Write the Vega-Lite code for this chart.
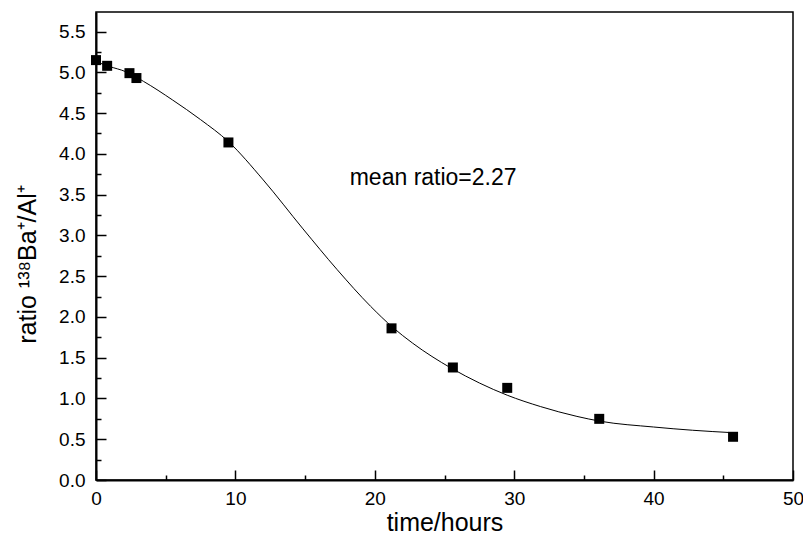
{
  "$schema": "https://vega.github.io/schema/vega-lite/v6.json",
  "width": 697,
  "height": 468,
  "autosize": "none",
  "padding": {"left": 96, "top": 12, "right": 10, "bottom": 60},
  "background": "white",
  "config": {
    "font": "Liberation Sans",
    "view": {"stroke": "#000", "strokeWidth": 1.5},
    "axis": {"grid": false, "labelFont": "Liberation Sans", "titleFont": "Liberation Sans", "labelColor": "#000", "titleColor": "#000", "tickColor": "#000", "domainColor": "#000", "labelFontSize": 19, "titleFontSize": 25, "titleFontWeight": "normal", "labelFlush": false, "labelOverlap": false}
  },
  "datasets": {
    "points": [
      {"time": 0, "ratio": 5.15},
      {"time": 0.8, "ratio": 5.08},
      {"time": 2.4, "ratio": 4.99},
      {"time": 2.9, "ratio": 4.93},
      {"time": 9.5, "ratio": 4.14},
      {"time": 21.2, "ratio": 1.86},
      {"time": 25.6, "ratio": 1.38},
      {"time": 29.5, "ratio": 1.13},
      {"time": 36.1, "ratio": 0.75},
      {"time": 45.7, "ratio": 0.53}
    ],
    "fit": [
      {"time": 0, "ratio": 5.13},
      {"time": 1.0, "ratio": 5.07},
      {"time": 2.1, "ratio": 5.01},
      {"time": 3.4, "ratio": 4.89},
      {"time": 5.5, "ratio": 4.66},
      {"time": 7.5, "ratio": 4.42},
      {"time": 9.5, "ratio": 4.15},
      {"time": 12.0, "ratio": 3.68},
      {"time": 14.85, "ratio": 3.08},
      {"time": 17.3, "ratio": 2.58},
      {"time": 19.7, "ratio": 2.13},
      {"time": 21.3, "ratio": 1.87},
      {"time": 22.7, "ratio": 1.68},
      {"time": 25.5, "ratio": 1.37},
      {"time": 27.5, "ratio": 1.19},
      {"time": 29.5, "ratio": 1.04},
      {"time": 31.9, "ratio": 0.9},
      {"time": 34.5, "ratio": 0.78},
      {"time": 36.2, "ratio": 0.72},
      {"time": 40, "ratio": 0.65},
      {"time": 42.8, "ratio": 0.61},
      {"time": 45.7, "ratio": 0.58}
    ],
    "note": [{"time": 18.2, "ratio": 3.7, "label": "mean ratio=2.27"}]
  },
  "resolve": {"axis": {"x": "independent", "y": "independent"}},
  "layer": [
    {
      "data": {"name": "fit"},
      "mark": {"type": "line", "interpolate": "monotone", "color": "#000", "strokeWidth": 1},
      "encoding": {
        "x": {"field": "time", "type": "quantitative", "scale": {"domain": [0, 50], "nice": false},
          "axis": {"orient": "bottom", "values": [5, 15, 25, 35, 45], "labels": false, "domain": false, "tickSize": -5, "tickWidth": 1.5, "title": null}},
        "y": {"field": "ratio", "type": "quantitative", "scale": {"domain": [0, 5.74], "nice": false},
          "axis": {"orient": "left", "values": [0.25, 0.75, 1.25, 1.75, 2.25, 2.75, 3.25, 3.75, 4.25, 4.75, 5.25], "labels": false, "domain": false, "tickSize": -5, "tickWidth": 1.5, "title": null}}
      }
    },
    {
      "data": {"name": "points"},
      "mark": {"type": "point", "shape": "square", "filled": true, "color": "#000", "size": 100, "opacity": 1},
      "encoding": {
        "x": {"field": "time", "type": "quantitative",
          "axis": {"orient": "bottom", "values": [0, 10, 20, 30, 40, 50], "tickSize": -10, "tickWidth": 1.5, "domainWidth": 2, "labelPadding": 19, "title": "time/hours", "titlePadding": 2}},
        "y": {"field": "ratio", "type": "quantitative",
          "axis": {"orient": "left", "values": [0, 0.5, 1, 1.5, 2, 2.5, 3, 3.5, 4, 4.5, 5, 5.5], "format": ".1f", "tickSize": -10, "tickWidth": 1.5, "domainWidth": 2, "labelPadding": 21, "title": "ratio ¹³⁸Ba⁺/Al⁺", "titleFontSize": 25, "titlePadding": 18, "titleY": 252}}
      }
    },
    {
      "data": {"name": "note"},
      "mark": {"type": "text", "align": "left", "baseline": "middle", "fontSize": 23, "color": "#000", "font": "Liberation Sans"},
      "encoding": {
        "x": {"field": "time", "type": "quantitative", "axis": null},
        "y": {"field": "ratio", "type": "quantitative", "axis": null},
        "text": {"field": "label"}
      }
    }
  ]
}
